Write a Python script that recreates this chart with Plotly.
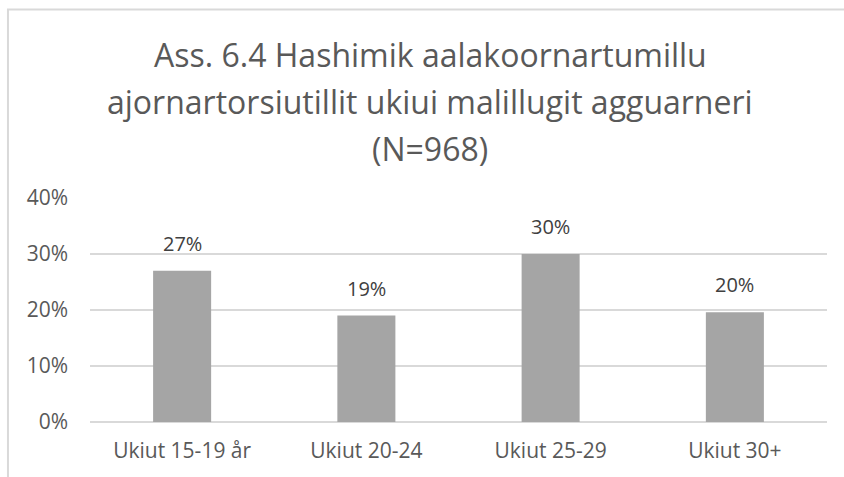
import plotly.graph_objects as go

# Share of respondents by age group
categories = ["Ukiut 15-19 år", "Ukiut 20-24", "Ukiut 25-29", "Ukiut 30+"]
shares = [0.27, 0.19, 0.30, 0.196]

title_lines = [
    "Ass. 6.4 Hashimik aalakoornartumillu",
    "ajornartorsiutillit ukiui malillugit agguarneri",
    "(N=968)",
]
y_tickvals = [0, 0.1, 0.2, 0.3, 0.4]
y_ticktext = ["0%", "10%", "20%", "30%", "40%"]

FONT = "Open Sans"
GRID = "#d9d9d9"

fig = go.Figure(
    go.Bar(
        x=categories,
        y=shares,
        marker=dict(color="#a5a5a5", line=dict(width=0)),
        hoverinfo="skip",
    )
)

# value labels above each bar
annotations = [
    dict(
        x=c, y=v, xref="x", yref="y",
        text=f"{v:.0%}", showarrow=False,
        yanchor="bottom", yshift=12,
        font=dict(family=FONT, size=20, color="#404040"),
    )
    for c, v in zip(categories, shares)
]

# three-line chart title
title_y = [1.64, 1.43, 1.22]
for line, ty in zip(title_lines, title_y):
    annotations.append(dict(
        x=0.462, y=ty, xref="paper", yref="paper",
        text=line, showarrow=False,
        xanchor="center", yanchor="middle",
        font=dict(family=FONT, size=32, color="#595959", weight=400),
    ))

fig.update_layout(
    width=844,
    height=477,
    margin=dict(l=90, r=17, t=198, b=55),
    paper_bgcolor="white",
    plot_bgcolor="white",
    showlegend=False,
    bargap=0.685,
    annotations=annotations,
    shapes=[
        dict(
            type="rect", xref="paper", yref="paper",
            x0=-0.1113, x1=1.05, y0=-0.4, y1=1.8415,
            line=dict(color=GRID, width=2), fillcolor="rgba(0,0,0,0)",
            layer="below",
        )
    ],
    xaxis=dict(
        showgrid=False,
        showline=False,
        ticks="",
        ticklabelstandoff=14,
        tickfont=dict(family=FONT, size=21, color="#595959"),
    ),
    yaxis=dict(
        range=[0, 0.4],
        tickvals=y_tickvals,
        ticktext=y_ticktext,
        showgrid=True,
        gridcolor=GRID,
        gridwidth=1.5,
        zeroline=True,
        zerolinecolor=GRID,
        zerolinewidth=1.5,
        showline=False,
        ticks="",
        ticklabelstandoff=21,
        tickfont=dict(family=FONT, size=21, color="#595959"),
    ),
)

fig.write_html("out.html")
